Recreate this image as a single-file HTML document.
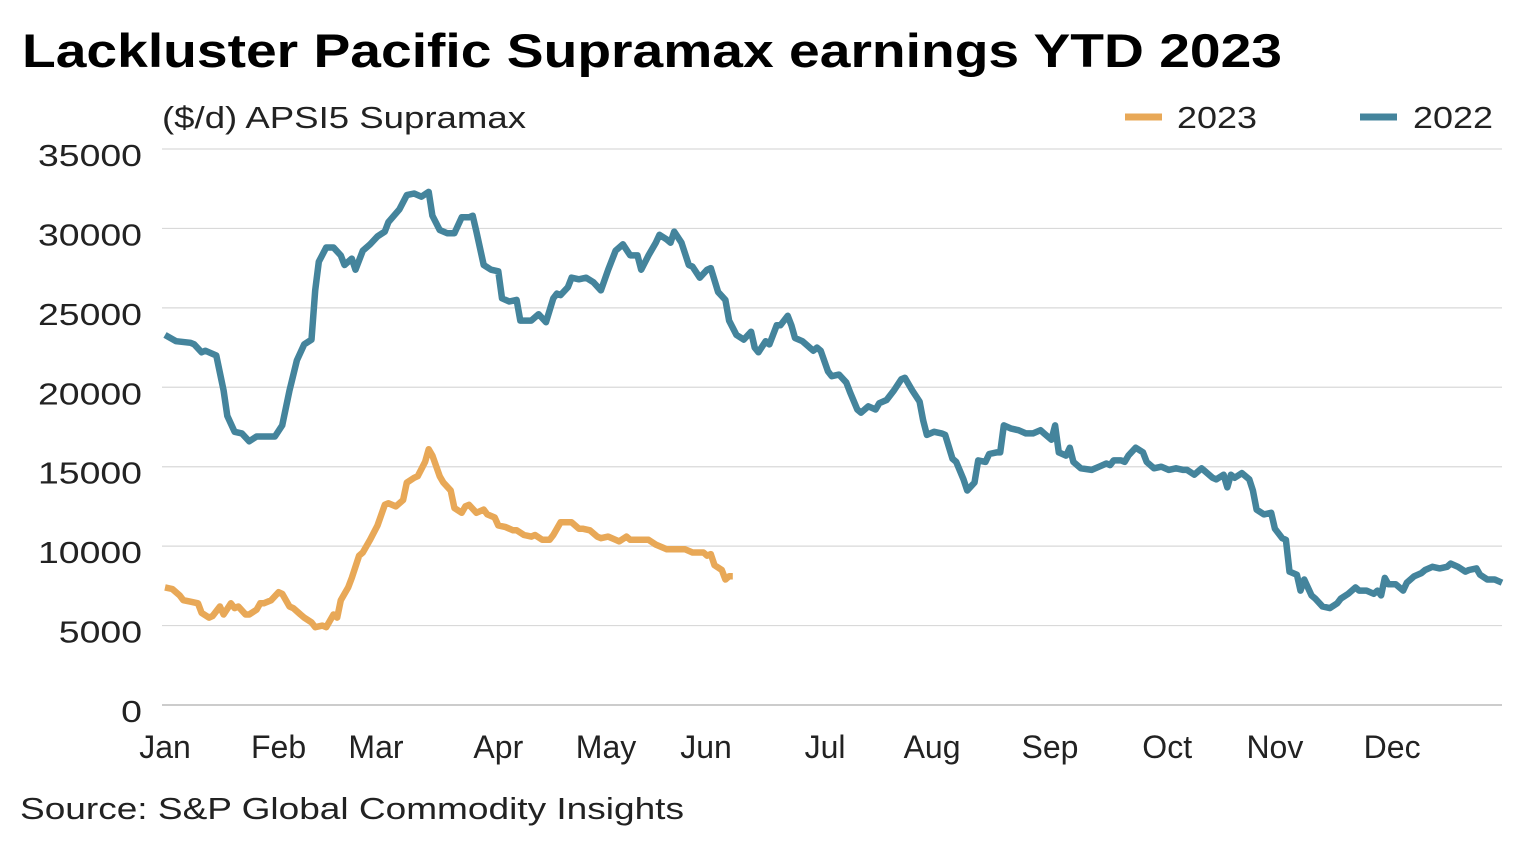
<!DOCTYPE html>
<html><head><meta charset="utf-8"><style>
body{margin:0;background:#fff;}
svg{display:block;font-family:"Liberation Sans",sans-serif;}
</style></head><body>
<svg id="chart" width="1536" height="844" viewBox="0 0 1536 844">
<text x="22" y="67" font-size="47" font-weight="bold" fill="#000" textLength="1260" lengthAdjust="spacingAndGlyphs">Lackluster Pacific Supramax earnings YTD 2023</text>
<text x="162" y="128" font-size="31" fill="#222" textLength="364" lengthAdjust="spacingAndGlyphs">($/d) APSI5 Supramax</text>
<g><line x1="1125" y1="117" x2="1162" y2="117" stroke="#E8A857" stroke-width="7"/><text x="1177" y="128" font-size="31" fill="#222" textLength="80" lengthAdjust="spacingAndGlyphs">2023</text></g>
<g><line x1="1360" y1="117" x2="1397" y2="117" stroke="#44849C" stroke-width="7"/><text x="1413" y="128" font-size="31" fill="#222" textLength="80" lengthAdjust="spacingAndGlyphs">2022</text></g>
<g id="grid"></g>
<g id="yticks"></g>
<g id="xticks"></g>
<g id="series"></g>
<text x="20" y="819" font-size="31" fill="#222" textLength="664" lengthAdjust="spacingAndGlyphs">Source: S&amp;P Global Commodity Insights</text>
</svg>
<script>
const yTicks=[0,5000,10000,15000,20000,25000,30000,35000];
const monthLabels=["Jan","Feb","Mar","Apr","May","Jun","Jul","Aug","Sep","Oct","Nov","Dec"];
const monthLabelDays=[0,31,57.6,91,120.4,147.7,180.2,209.4,241.6,273.6,303,335];
const days2022=[0,3,7,8,10,11,14,16,17,19,21,23,25,27,30,32,34,36,38,40,41,42,44,46,48,49,51,52,54,56,58,60,61,64,66,68,70,72,73,75,77,79,81,83,84,85,87,89,91,92,94,96,97,100,102,104,106,107,108,110,111,113,115,117,119,121,123,125,127,129,130,132,134,135,137,138,139,141,143,144,146,148,149,151,153,154,156,158,160,161,162,164,165,167,168,170,171,172,174,176,177,178,179,181,182,184,186,187,189,190,192,194,195,197,199,201,202,204,206,207,208,210,212,213,215,216,218,219,221,222,224,225,227,228,229,231,233,235,237,239,240,242,243,244,246,247,248,250,253,255,257,258,259,261,262,263,265,267,268,270,272,274,276,278,279,281,283,284,286,287,289,290,291,292,294,296,297,298,300,302,303,305,306,307,309,310,311,313,314,316,318,320,321,323,325,326,328,330,331,332,333,334,336,338,339,341,343,344,346,348,350,351,353,355,356,358,359,361,363,365];
const values2022=[23300,22900,22800,22700,22200,22300,22000,19800,18200,17200,17100,16600,16900,16900,16900,17600,19800,21700,22700,23000,26100,27900,28800,28800,28300,27700,28100,27400,28600,29000,29500,29800,30400,31200,32100,32200,32000,32300,30800,29900,29700,29700,30700,30700,30800,29800,27700,27400,27300,25600,25400,25500,24200,24200,24600,24100,25600,25900,25800,26300,26900,26800,26900,26600,26100,27400,28600,29000,28300,28300,27400,28300,29100,29600,29300,29100,29800,29100,27700,27600,26900,27400,27500,26000,25500,24200,23300,23000,23500,22500,22200,22900,22700,23900,23900,24500,23900,23100,22900,22500,22300,22500,22300,21000,20700,20800,20300,19700,18600,18400,18800,18600,19000,19200,19800,20500,20600,19800,19100,17900,17000,17200,17100,17000,15500,15300,14200,13500,14000,15400,15300,15800,15900,15900,17600,17400,17300,17100,17100,17300,17100,16700,17600,15900,15700,16200,15300,14900,14800,15000,15200,15100,15400,15400,15300,15700,16200,15900,15300,14900,15000,14800,14900,14800,14800,14500,14900,14700,14300,14200,14500,13700,14500,14300,14600,14200,13500,12300,12000,12100,11100,10500,10400,8400,8200,7200,7900,6900,6700,6200,6100,6400,6700,7000,7400,7200,7200,7000,7200,6900,8000,7600,7600,7200,7700,8100,8300,8500,8700,8600,8700,8900,8700,8400,8500,8600,8200,7900,7900,7700];
const days2023=[0,2,4,5,7,9,10,12,13,15,16,18,19,20,22,23,25,26,27,29,31,32,34,35,37,38,40,41,43,44,46,47,48,50,51,53,54,56,58,60,61,63,65,66,68,69,71,72,73,75,76,78,79,81,82,83,85,87,88,90,91,93,95,96,98,100,101,103,105,106,108,109,111,113,114,116,118,119,121,123,124,126,127,129,131,132,134,136,137,139,141,142,144,146,147,148,149,150,152,153,154,155];
const values2023=[7400,7300,6900,6600,6500,6400,5800,5500,5600,6200,5700,6400,6100,6200,5700,5700,6000,6400,6400,6600,7100,7000,6200,6100,5700,5500,5200,4900,5000,4900,5700,5500,6600,7400,8000,9400,9600,10400,11300,12600,12700,12500,12900,14000,14300,14400,15300,16100,15700,14400,14000,13500,12400,12100,12500,12600,12100,12300,12000,11800,11300,11200,11000,11000,10700,10600,10700,10400,10400,10700,11500,11500,11500,11100,11100,11000,10600,10500,10600,10400,10300,10600,10400,10400,10400,10400,10100,9900,9800,9800,9800,9800,9600,9600,9600,9400,9500,8800,8500,7900,8100,8100];

const NS="http://www.w3.org/2000/svg";
const X0=165,X1=1502,Y0=705,Y1=149;
const xs=d=>X0+(X1-X0)*d/365;
const ys=v=>Y0-(Y0-Y1)*v/35000;
const grid=document.getElementById('grid'),yt=document.getElementById('yticks'),xt=document.getElementById('xticks'),ser=document.getElementById('series');
yTicks.forEach(v=>{
  const l=document.createElementNS(NS,'line');
  l.setAttribute('x1',162);l.setAttribute('x2',X1);l.setAttribute('y1',ys(v));l.setAttribute('y2',ys(v));
  l.setAttribute('stroke',v===0?'#bbb':'#d9d9d9');l.setAttribute('stroke-width',v===0?1.5:1.2);
  
  
  grid.appendChild(l);
  const t=document.createElementNS(NS,'text');
  const s=String(v);
  t.setAttribute('x',142);t.setAttribute('y',ys(v)+17);t.setAttribute('text-anchor','end');
  t.setAttribute('font-size','31');t.setAttribute('fill','#222');t.textContent=s;
  t.setAttribute('textLength',s.length*20.8);t.setAttribute('lengthAdjust','spacingAndGlyphs');
  
  
  yt.appendChild(t);
});
monthLabels.forEach((m,i)=>{
  const t=document.createElementNS(NS,'text');
  t.setAttribute('x',xs(monthLabelDays[i]));t.setAttribute('y',758);t.setAttribute('text-anchor','middle');
  t.setAttribute('font-size','32');t.setAttribute('fill','#222');t.textContent=m;
  
  
  xt.appendChild(t);
});
function line(days,vals,color,name){
  const p=document.createElementNS(NS,'path');
  p.setAttribute('d',days.map((d,i)=>(i?'L':'M')+xs(d).toFixed(1)+','+ys(vals[i]).toFixed(1)).join(''));
  p.setAttribute('fill','none');p.setAttribute('stroke',color);p.setAttribute('stroke-width','6.5');
  p.setAttribute('stroke-linejoin','round');
  
  
  ser.appendChild(p);
}
line(days2022,values2022,'#44849C','line-2022');
line(days2023,values2023,'#E8A857','line-2023');
</script>
</body></html>
